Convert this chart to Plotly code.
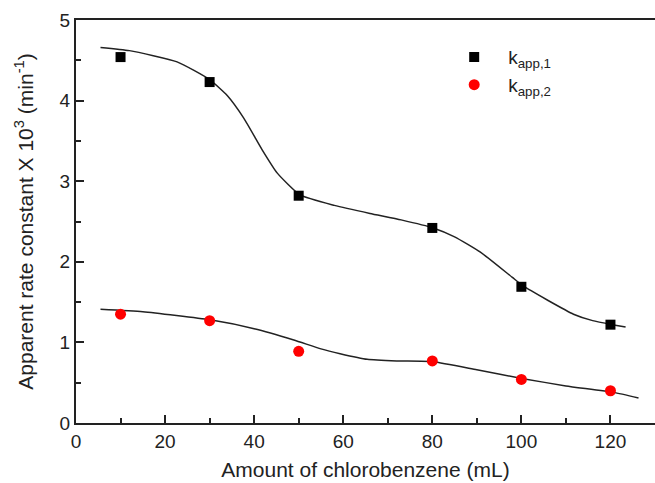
import plotly.graph_objects as go

# measured data
x_pts = [10, 30, 50, 80, 100, 120]
k1 = [4.54, 4.23, 2.82, 2.42, 1.69, 1.22]
k2 = [1.35, 1.27, 0.89, 0.77, 0.54, 0.40]

# fitted curves
fit1_x = [5.5, 12, 22.7, 30, 34, 37.7, 41.8, 45.2, 50.3, 58, 66, 73, 80.2, 85, 90.8, 97.9, 100.4, 106, 111.7, 116, 120.4, 123.4]
fit1_y = [4.66, 4.62, 4.48, 4.26, 4.06, 3.78, 3.39, 3.10, 2.83, 2.70, 2.60, 2.52, 2.42, 2.31, 2.12, 1.81, 1.70, 1.52, 1.35, 1.27, 1.22, 1.19]
fit2_x = [5.5, 15, 30.1, 40, 48.9, 55, 59.3, 65.4, 72, 80.2, 90, 100.4, 110, 120.7, 126.3]
fit2_y = [1.41, 1.38, 1.28, 1.17, 1.03, 0.92, 0.86, 0.79, 0.77, 0.76, 0.66, 0.55, 0.46, 0.38, 0.31]

x_ticks = [0, 20, 40, 60, 80, 100, 120]
y_ticks = [0, 1, 2, 3, 4, 5]

FONT = "Liberation Sans, Arial, sans-serif"

fig = go.Figure()
fig.add_trace(go.Scatter(x=fit1_x, y=fit1_y, mode="lines", line=dict(color="#222", width=1.5, shape="spline", smoothing=0.5),
                         showlegend=False, hoverinfo="skip"))
fig.add_trace(go.Scatter(x=fit2_x, y=fit2_y, mode="lines", line=dict(color="#222", width=1.5, shape="spline", smoothing=0.5),
                         showlegend=False, hoverinfo="skip"))
fig.add_trace(go.Scatter(x=x_pts, y=k1, mode="markers", name="k<sub>app,1</sub>",
                         marker=dict(symbol="square", size=10, color="black")))
fig.add_trace(go.Scatter(x=x_pts, y=k2, mode="markers", name="k<sub>app,2</sub>",
                         marker=dict(symbol="circle", size=11, color="#ff0000")))

fig.update_layout(
    width=655, height=483,
    margin=dict(l=76, r=0, t=20, b=60),
    paper_bgcolor="white", plot_bgcolor="white",
    font=dict(family=FONT, size=19, color="#222"),
    legend=dict(x=0.629, y=0.955, xanchor="left", yanchor="top", bgcolor="rgba(0,0,0,0)",
                font=dict(size=19), tracegroupgap=0, itemwidth=58),
    xaxis=dict(range=[0, 130], tickvals=x_ticks, ticks="inside", ticklen=8, tickwidth=1.5,
               showline=True, linecolor="#222", linewidth=2, mirror=True, showgrid=False, zeroline=False,
               minor=dict(dtick=10, ticks="inside", ticklen=5, tickwidth=1.5, tickcolor="#222"),
               tickcolor="#222",
               title=dict(text="Amount of chlorobenzene (mL)", font=dict(size=21), standoff=12),
               tickfont=dict(size=19)),
    yaxis=dict(range=[0, 5], tickvals=y_ticks, ticks="inside", ticklen=8, tickwidth=1.5,
               showline=True, linecolor="#222", linewidth=2, showgrid=False, zeroline=False,
               minor=dict(dtick=0.5, ticks="inside", ticklen=5, tickwidth=1.5, tickcolor="#222"),
               tickcolor="#222",
               title=dict(text="Apparent rate constant X 10<sup>3</sup> (min<sup>-1</sup>)", font=dict(size=21), standoff=20),
               tickfont=dict(size=19)),
)

fig.write_html("out.html")
